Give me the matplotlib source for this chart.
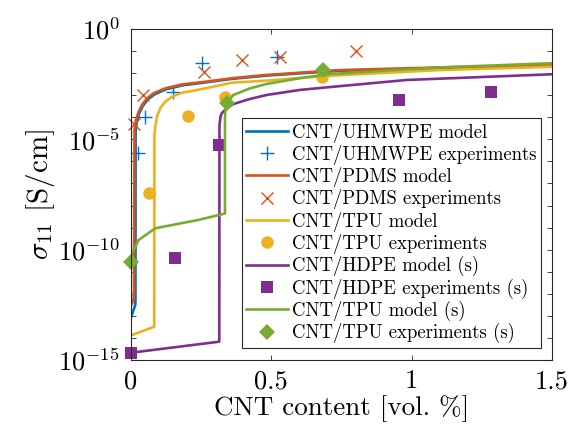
import matplotlib
matplotlib.use("Agg")
import matplotlib.pyplot as plt
import numpy as np

plt.rcParams['font.family'] = ['cmr10', 'DejaVu Sans']
plt.rcParams['mathtext.fontset'] = 'cm'
plt.rcParams['axes.unicode_minus'] = False

# model curves, x in vol. %, y as log10(sigma)
uhmwpe_x = [0.001, 0.0153, 0.016, 0.0165, 0.021, 0.030, 0.042, 0.060, 0.084,
            0.125, 0.185, 0.265, 0.360, 0.483, 0.745, 1.1, 1.5]
uhmwpe_log = [-13.04, -12.51, -12.3, -4.65, -4.18, -3.80, -3.49, -3.19, -2.96,
              -2.73, -2.55, -2.42, -2.26, -2.11, -1.89, -1.77, -1.66]

pdms_x = [0.0, 0.0089, 0.0107, 0.0125, 0.0178, 0.0274, 0.0392, 0.057, 0.0809,
          0.122, 0.182, 0.265, 0.360, 0.483, 0.745, 1.101, 1.5]
pdms_log = [-12.55, -12.28, -11.83, -4.58, -4.12, -3.75, -3.44, -3.14, -2.91,
            -2.69, -2.51, -2.39, -2.23, -2.08, -1.86, -1.74, -1.63]

tpu_x = [0.0036, 0.083, 0.0835, 0.0866, 0.0926, 0.1044, 0.122, 0.146, 0.182,
         0.265, 0.360, 0.483, 0.685, 1.101, 1.5]
tpu_log = [-13.87, -13.49, -4.80, -4.43, -3.97, -3.59, -3.29, -3.07, -2.89,
           -2.69, -2.43, -2.34, -2.13, -1.86, -1.71]

hdpe_x = [0.0, 0.3146, 0.3153, 0.319, 0.323, 0.341, 0.3645, 0.424, 0.483,
          0.602, 0.709, 0.982, 1.5]
hdpe_log = [-14.67, -14.17, -4.35, -3.97, -3.82, -3.59, -3.40, -3.17, -2.99,
            -2.76, -2.63, -2.31, -2.05]

tpus_x = [0.0, 0.0036, 0.0274, 0.0866, 0.241, 0.329, 0.335, 0.335, 0.338,
          0.341, 0.3645, 0.424, 0.483, 0.602, 0.709, 1.101, 1.5]
tpus_log = [-10.51, -10.15, -9.56, -9.03, -8.65, -8.38, -8.36, -3.90, -3.58,
            -3.37, -2.99, -2.69, -2.49, -2.23, -2.04, -1.74, -1.55]

# experiments
uhmwpe_exp_x = [0.026, 0.050, 0.151, 0.252, 0.519]
uhmwpe_exp_log = [-5.60, -3.97, -2.84, -1.55, -1.26]

pdms_exp_x = [0.012, 0.042, 0.259, 0.394, 0.531, 0.80]
pdms_exp_log = [-4.30, -2.99, -1.93, -1.40, -1.26, -0.98]

tpu_exp_x = [0.065, 0.203, 0.336, 0.68]
tpu_exp_log = [-7.42, -3.94, -3.07, -2.18]

hdpe_exp_x = [0.0, 0.158, 0.312, 0.955, 1.281]
hdpe_exp_log = [-14.67, -10.39, -5.26, -3.22, -2.87]

tpus_exp_x = [0.0, 0.3416, 0.683]
tpus_exp_log = [-10.54, -3.37, -1.86]

blue = '#0072BD'
orange = '#D95319'
yellow = '#EDB120'
purple = '#7E2F8E'
green = '#77AC30'

fig = plt.figure(figsize=(5.78, 4.37), dpi=100)
ax = fig.add_axes([0.2266, 0.1762, 0.7284, 0.7574])

lw = 1.9

def pw(v):
    return 10.0 ** np.array(v)

ax.plot(uhmwpe_x, pw(uhmwpe_log), color=blue, lw=lw, label='CNT/UHMWPE model')
ax.plot(uhmwpe_exp_x, pw(uhmwpe_exp_log), '+', color=blue, ms=10, mew=1.0,
        clip_on=False, label='CNT/UHMWPE experiments')
ax.plot(pdms_x, pw(pdms_log), color=orange, lw=lw, label='CNT/PDMS model')
ax.plot(pdms_exp_x, pw(pdms_exp_log), 'x', color=orange, ms=8, mew=1.0,
        clip_on=False, label='CNT/PDMS experiments')
ax.plot(tpu_x, pw(tpu_log), color=yellow, lw=lw, label='CNT/TPU model')
ax.plot(tpu_exp_x, pw(tpu_exp_log), 'o', color=yellow, ms=9, mew=0,
        clip_on=False, label='CNT/TPU experiments')
ax.plot(hdpe_x, pw(hdpe_log), color=purple, lw=lw, label='CNT/HDPE model (s)')
ax.plot(hdpe_exp_x, pw(hdpe_exp_log), 's', color=purple, ms=8, mew=0,
        clip_on=False, label='CNT/HDPE experiments (s)')
ax.plot(tpus_x, pw(tpus_log), color=green, lw=lw, label='CNT/TPU model (s)')
ax.plot(tpus_exp_x, pw(tpus_exp_log), 'D', color=green, ms=8.5, mew=0,
        clip_on=False, label='CNT/TPU experiments (s)')

ax.set_yscale('log')
ax.set_xlim(0, 1.5)
ax.set_ylim(1e-15, 1e0)

ax.set_xticks([0, 0.5, 1, 1.5])
ax.set_xticklabels(['0', '0.5', '1', '1.5'])
decades = np.arange(-15, 1)
ax.set_yticks(10.0 ** decades)
ax.set_yticklabels([r'$10^{%d}$' % d if d % 5 == 0 else '' for d in decades])
ax.minorticks_off()

ax.tick_params(which='both', direction='in', top=True, right=True,
               length=3.5, width=0.6, color='#262626', labelsize=19)
ax.tick_params(axis='x', pad=7)
ax.tick_params(axis='y', pad=8)
for s in ax.spines.values():
    s.set_linewidth(0.8)
    s.set_color('#262626')

ax.set_xlabel('CNT content [vol. %]', fontsize=19.5, labelpad=1)
ax.set_ylabel(r'$\sigma_{11}$ [S/cm]', fontsize=21, labelpad=1)

leg = ax.legend(loc='lower right', bbox_to_anchor=(0.975, 0.036),
                borderaxespad=0, fontsize=13.5, fancybox=False,
                edgecolor='#262626', framealpha=1, handlelength=2.2,
                handletextpad=0.25, labelspacing=0.12, borderpad=0.25)
leg.get_frame().set_linewidth(0.8)

fig.savefig('out.png', dpi=100)
